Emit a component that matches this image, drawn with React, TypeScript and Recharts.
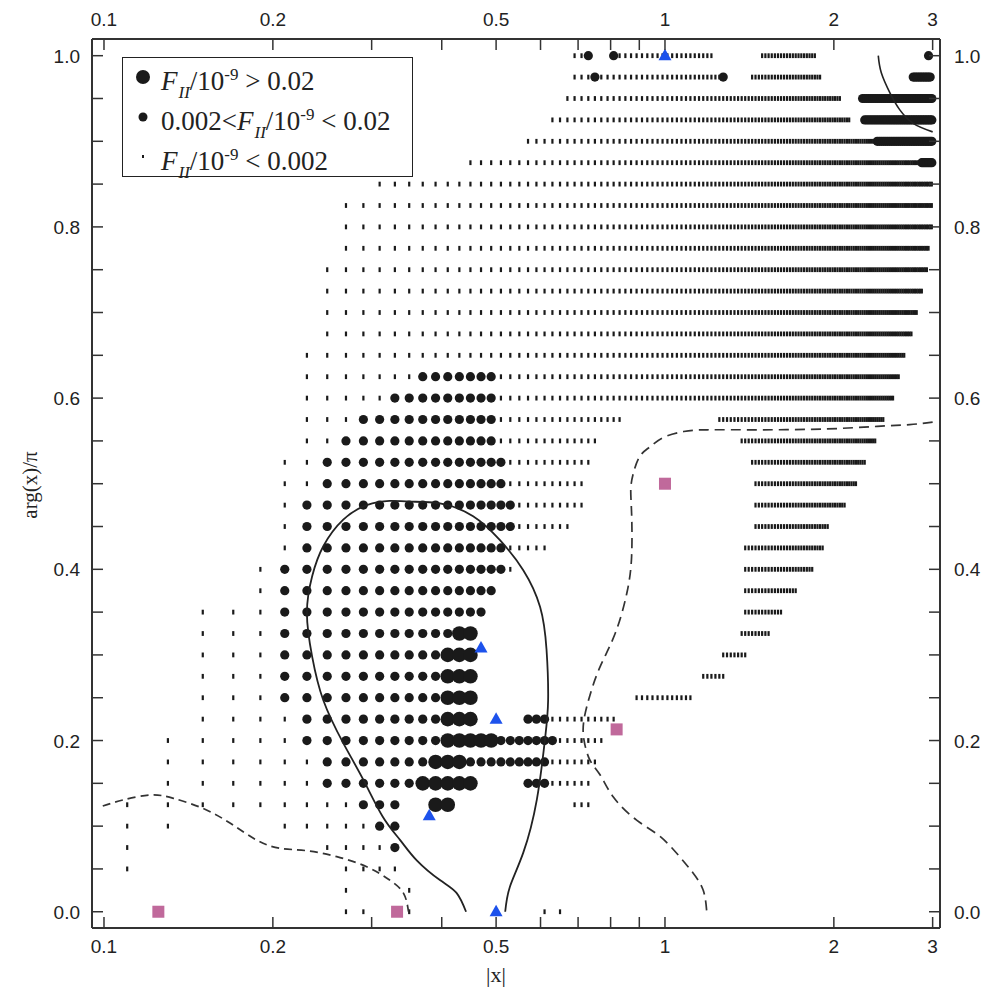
import { Scatter, ScatterChart, XAxis, YAxis } from "recharts"

// scan grid in |x|: 0.11, 0.13, ... 2.99
const GRID_START = 0.11
const GRID_STEP = 0.02

// [arg/pi, |x| from, |x| to] for each run of points on one row
const smallSpans = [
  [1.0, 0.69, 0.71], [1.0, 0.83, 1.21], [1.0, 1.49, 1.85],
  [0.975, 0.69, 0.73], [0.975, 0.77, 1.25], [0.975, 1.43, 1.89],
  [0.95, 0.67, 2.05],
  [0.925, 0.63, 2.13],
  [0.9, 0.57, 2.37],
  [0.875, 0.45, 2.85],
  [0.85, 0.31, 2.99],
  [0.825, 0.27, 2.99],
  [0.8, 0.27, 2.99],
  [0.775, 0.27, 2.95],
  [0.75, 0.25, 2.93],
  [0.725, 0.25, 2.87],
  [0.7, 0.25, 2.81],
  [0.675, 0.25, 2.75],
  [0.65, 0.23, 2.67],
  [0.625, 0.23, 0.35], [0.625, 0.51, 2.61],
  [0.6, 0.23, 0.31], [0.6, 0.51, 2.55],
  [0.575, 0.23, 0.27], [0.575, 0.51, 0.83], [0.575, 1.25, 2.45],
  [0.55, 0.23, 0.25], [0.55, 0.51, 0.75], [0.55, 1.37, 2.37],
  [0.525, 0.21, 0.23], [0.525, 0.53, 0.73], [0.525, 1.43, 2.27],
  [0.5, 0.21, 0.23], [0.5, 0.53, 0.71], [0.5, 1.45, 2.19],
  [0.475, 0.21, 0.21], [0.475, 0.55, 0.71], [0.475, 1.45, 2.09],
  [0.45, 0.21, 0.21], [0.45, 0.55, 0.67], [0.45, 1.45, 1.95],
  [0.425, 0.21, 0.21], [0.425, 0.53, 0.61], [0.425, 1.39, 1.91],
  [0.4, 0.19, 0.19], [0.4, 0.53, 0.53], [0.4, 1.39, 1.83],
  [0.375, 0.19, 0.19], [0.375, 1.39, 1.71],
  [0.35, 0.15, 0.19], [0.35, 1.39, 1.61],
  [0.325, 0.15, 0.19], [0.325, 1.37, 1.53],
  [0.3, 0.15, 0.19], [0.3, 1.27, 1.39],
  [0.275, 0.15, 0.19], [0.275, 1.17, 1.27],
  [0.25, 0.15, 0.19], [0.25, 0.89, 1.11],
  [0.225, 0.15, 0.21], [0.225, 0.63, 0.81],
  [0.2, 0.13, 0.21], [0.2, 0.65, 0.77],
  [0.175, 0.13, 0.23], [0.175, 0.63, 0.75],
  [0.15, 0.13, 0.23], [0.15, 0.63, 0.73],
  [0.125, 0.11, 0.27], [0.125, 0.69, 0.73],
  [0.1, 0.11, 0.13], [0.1, 0.21, 0.29],
  [0.075, 0.11, 0.11], [0.075, 0.25, 0.31],
  [0.05, 0.11, 0.11], [0.05, 0.27, 0.33],
  [0.025, 0.27, 0.27], [0.025, 0.35, 0.35],
  [0.0, 0.27, 0.29], [0.0, 0.35, 0.35], [0.0, 0.61, 0.61], [0.0, 0.65, 0.65],
]

const mediumSpans = [
  [1.0, 0.73, 0.73], [1.0, 0.81, 0.81], [1.0, 2.95, 2.95],
  [0.975, 0.75, 0.75], [0.975, 1.27, 1.27], [0.975, 2.77, 2.97],
  [0.95, 2.25, 2.99],
  [0.925, 2.27, 2.99],
  [0.9, 2.39, 2.99],
  [0.875, 2.87, 2.99],
  [0.625, 0.37, 0.49],
  [0.6, 0.33, 0.49],
  [0.575, 0.29, 0.49],
  [0.55, 0.27, 0.49],
  [0.525, 0.25, 0.51],
  [0.5, 0.25, 0.51],
  [0.475, 0.23, 0.53],
  [0.45, 0.23, 0.53],
  [0.425, 0.23, 0.51],
  [0.4, 0.21, 0.51],
  [0.375, 0.21, 0.49],
  [0.35, 0.21, 0.47],
  [0.325, 0.21, 0.41],
  [0.3, 0.21, 0.39],
  [0.275, 0.21, 0.39],
  [0.25, 0.21, 0.39],
  [0.225, 0.23, 0.39], [0.225, 0.57, 0.61],
  [0.2, 0.23, 0.39], [0.2, 0.51, 0.63],
  [0.175, 0.25, 0.37], [0.175, 0.45, 0.61],
  [0.15, 0.25, 0.35], [0.15, 0.57, 0.61],
  [0.125, 0.29, 0.33],
  [0.1, 0.31, 0.33],
  [0.075, 0.33, 0.33],
]

const largeSpans = [
  [0.325, 0.43, 0.45],
  [0.3, 0.41, 0.45],
  [0.275, 0.41, 0.45],
  [0.25, 0.41, 0.45],
  [0.225, 0.41, 0.45],
  [0.2, 0.41, 0.49],
  [0.175, 0.39, 0.43],
  [0.15, 0.37, 0.45],
  [0.125, 0.39, 0.41],
]

const triangles = [
  { x: 1.0, y: 1.0 },
  { x: 0.47, y: 0.308 },
  { x: 0.5, y: 0.225 },
  { x: 0.38, y: 0.112 },
  { x: 0.5, y: 0.0 },
]

const squares = [
  { x: 0.125, y: 0.0 },
  { x: 0.333, y: 0.0 },
  { x: 0.82, y: 0.213 },
  { x: 1.0, y: 0.5 },
]

const solidLoop = [
  { x: 0.442, y: 0.0 }, { x: 0.425, y: 0.022 }, { x: 0.397, y: 0.037 },
  { x: 0.361, y: 0.06 }, { x: 0.337, y: 0.084 }, { x: 0.314, y: 0.111 },
  { x: 0.29, y: 0.154 }, { x: 0.267, y: 0.197 }, { x: 0.246, y: 0.247 },
  { x: 0.235, y: 0.298 }, { x: 0.23, y: 0.349 }, { x: 0.235, y: 0.392 },
  { x: 0.246, y: 0.427 }, { x: 0.267, y: 0.458 }, { x: 0.294, y: 0.475 },
  { x: 0.323, y: 0.48 }, { x: 0.351, y: 0.479 }, { x: 0.397, y: 0.477 },
  { x: 0.455, y: 0.462 }, { x: 0.508, y: 0.434 }, { x: 0.559, y: 0.399 },
  { x: 0.599, y: 0.356 }, { x: 0.615, y: 0.306 }, { x: 0.619, y: 0.247 },
  { x: 0.611, y: 0.201 }, { x: 0.591, y: 0.131 }, { x: 0.559, y: 0.069 },
  { x: 0.529, y: 0.029 }, { x: 0.519, y: 0.0 },
]

const cornerArc = [
  { x: 2.4, y: 1.0 }, { x: 2.43, y: 0.98 }, { x: 2.52, y: 0.956 },
  { x: 2.62, y: 0.937 }, { x: 2.77, y: 0.921 }, { x: 3.0, y: 0.911 },
]

const leftDashed = [
  { x: 0.0995, y: 0.1235 }, { x: 0.108, y: 0.1305 }, { x: 0.121, y: 0.1364 },
  { x: 0.133, y: 0.1325 }, { x: 0.15, y: 0.1208 }, { x: 0.168, y: 0.1033 },
  { x: 0.187, y: 0.0838 }, { x: 0.206, y: 0.0741 }, { x: 0.23, y: 0.0713 },
  { x: 0.26, y: 0.0643 }, { x: 0.294, y: 0.0526 }, { x: 0.323, y: 0.037 },
  { x: 0.342, y: 0.0215 }, { x: 0.349, y: 0.0 },
]

const rightDashed = [
  { x: 3.0, y: 0.572 }, { x: 2.73, y: 0.569 }, { x: 2.39, y: 0.567 },
  { x: 1.94, y: 0.564 }, { x: 1.48, y: 0.563 }, { x: 1.19, y: 0.563 },
  { x: 1.08, y: 0.561 }, { x: 0.993, y: 0.554 }, { x: 0.94, y: 0.543 },
  { x: 0.902, y: 0.532 }, { x: 0.878, y: 0.512 }, { x: 0.869, y: 0.493 },
  { x: 0.872, y: 0.465 }, { x: 0.872, y: 0.415 }, { x: 0.855, y: 0.372 },
  { x: 0.815, y: 0.325 }, { x: 0.766, y: 0.286 }, { x: 0.735, y: 0.253 },
  { x: 0.717, y: 0.224 }, { x: 0.717, y: 0.201 }, { x: 0.735, y: 0.177 },
  { x: 0.766, y: 0.16 }, { x: 0.809, y: 0.134 }, { x: 0.89, y: 0.107 },
  { x: 0.98, y: 0.088 }, { x: 1.063, y: 0.064 }, { x: 1.123, y: 0.045 },
  { x: 1.17, y: 0.025 }, { x: 1.187, y: 0.0 },
]

const xTicks = [0.1, 0.2, 0.3, 0.4, 0.5, 0.6, 0.7, 0.8, 0.9, 1, 2, 3]
const xLabelled = [0.1, 0.2, 0.5, 1, 2, 3]
const yTicks = [
  0, 0.05, 0.1, 0.15, 0.2, 0.25, 0.3, 0.35, 0.4, 0.45, 0.5,
  0.55, 0.6, 0.65, 0.7, 0.75, 0.8, 0.85, 0.9, 0.95, 1,
]
const yLabelled = [0, 0.2, 0.4, 0.6, 0.8, 1]

function expandSpans(spans: number[][]) {
  const pts: { x: number; y: number }[] = []
  for (const [y, from, to] of spans) {
    const k0 = Math.round((from - GRID_START) / GRID_STEP)
    const k1 = Math.round((to - GRID_START) / GRID_STEP)
    for (let k = k0; k <= k1; k++) {
      pts.push({ x: Math.round((GRID_START + GRID_STEP * k) * 100) / 100, y })
    }
  }
  return pts
}

const smallPts = expandSpans(smallSpans)
const mediumPts = expandSpans(mediumSpans)
const largePts = expandSpans(largeSpans)

const INK = "#1a1a1a"
const AXIS = "#333"
const TICK_LEN = 11
const sans = '"Liberation Sans", Arial, sans-serif'
const serif = '"Liberation Serif", "Times New Roman", serif'

const SmallDot = (p: any) => (
  <rect x={p.cx - 1.1} y={p.cy - 2.4} width={2.2} height={4.8} fill={INK} />
)
const MediumDot = (p: any) => <circle cx={p.cx} cy={p.cy} r={4.6} fill={INK} />
const LargeDot = (p: any) => <circle cx={p.cx} cy={p.cy} r={7.3} fill={INK} />
const Triangle = (p: any) => (
  <polygon
    points={`${p.cx},${p.cy - 7} ${p.cx + 6.5},${p.cy + 4.5} ${p.cx - 6.5},${p.cy + 4.5}`}
    fill="#1d52ec"
  />
)
const Square = (p: any) => (
  <rect x={p.cx - 6} y={p.cy - 6} width={12} height={12} fill="#c0699b" />
)
const NoDot = () => <g />

const fmtX = (v: number) => String(v)
const fmtY = (v: number) => v.toFixed(1)

function XTick({ x, y, payload, top }: any) {
  const v = payload.value
  const dir = top ? 1 : -1
  return (
    <g>
      <line x1={x} x2={x} y1={y} y2={y + dir * TICK_LEN} stroke={AXIS} strokeWidth={1.5} />
      {xLabelled.includes(v) && (
        <text
          x={x}
          y={top ? y - 13 : y + 25}
          textAnchor="middle"
          fontFamily={sans}
          fontSize={19}
          fill="#222"
        >
          {fmtX(v)}
        </text>
      )}
    </g>
  )
}

function YTick({ x, y, payload, right }: any) {
  const v = payload.value
  const dir = right ? -1 : 1
  return (
    <g>
      <line x1={x} x2={x + dir * TICK_LEN} y1={y} y2={y} stroke={AXIS} strokeWidth={1.5} />
      {yLabelled.includes(v) && (
        <text
          x={right ? x + 14 : x - 12}
          y={y + 7}
          textAnchor={right ? "start" : "end"}
          fontFamily={sans}
          fontSize={19}
          fill="#222"
        >
          {fmtY(v)}
        </text>
      )}
    </g>
  )
}

const X_DOMAIN = [0.0952, 3.092]
const Y_DOMAIN = [-0.019, 1.0195]

const subStyle = { fontSize: 17, fontStyle: "italic" as const, verticalAlign: "-8px", marginLeft: 1 }
const supStyle = { fontSize: 17, verticalAlign: "10px" }

export default function App() {
  return (
    <div style={{ position: "absolute", left: 0, top: 0, width: 989, height: 998, background: "#fff" }}>
      <ScatterChart width={989} height={998} margin={{ top: 38, right: 48, bottom: 69, left: 91 }}>
        <XAxis
          type="number"
          dataKey="x"
          scale="log"
          domain={X_DOMAIN}
          allowDataOverflow
          ticks={xTicks}
          interval={0}
          height={1}
          tickSize={0}
          tickMargin={0}
          axisLine={{ stroke: AXIS, strokeWidth: 2 }}
          tick={<XTick />}
        />
        <XAxis
          xAxisId="top"
          orientation="top"
          type="number"
          dataKey="x"
          scale="log"
          domain={X_DOMAIN}
          allowDataOverflow
          ticks={xTicks}
          interval={0}
          height={1}
          tickSize={0}
          tickMargin={0}
          axisLine={{ stroke: AXIS, strokeWidth: 2 }}
          tick={<XTick top />}
        />
        <YAxis
          type="number"
          dataKey="y"
          domain={Y_DOMAIN}
          allowDataOverflow
          ticks={yTicks}
          interval={0}
          width={1}
          tickSize={0}
          tickMargin={0}
          axisLine={{ stroke: AXIS, strokeWidth: 2 }}
          tick={<YTick />}
        />
        <YAxis
          yAxisId="right"
          orientation="right"
          type="number"
          dataKey="y"
          domain={Y_DOMAIN}
          allowDataOverflow
          ticks={yTicks}
          interval={0}
          width={1}
          tickSize={0}
          tickMargin={0}
          axisLine={{ stroke: AXIS, strokeWidth: 2 }}
          tick={<YTick right />}
        />
        <Scatter data={smallPts} shape={SmallDot} isAnimationActive={false} />
        <Scatter data={mediumPts} shape={MediumDot} isAnimationActive={false} />
        <Scatter data={largePts} shape={LargeDot} isAnimationActive={false} />
        <Scatter
          data={solidLoop}
          shape={NoDot}
          line={{ stroke: "#222", strokeWidth: 1.8 }}
          lineJointType="natural"
          isAnimationActive={false}
        />
        <Scatter
          data={cornerArc}
          shape={NoDot}
          line={{ stroke: "#222", strokeWidth: 1.6 }}
          lineJointType="natural"
          isAnimationActive={false}
        />
        <Scatter
          data={leftDashed}
          shape={NoDot}
          line={{ stroke: "#333", strokeWidth: 1.7, strokeDasharray: "8 5" }}
          lineJointType="natural"
          isAnimationActive={false}
        />
        <Scatter
          data={rightDashed}
          shape={NoDot}
          line={{ stroke: "#333", strokeWidth: 1.7, strokeDasharray: "10 6" }}
          lineJointType="natural"
          isAnimationActive={false}
        />
        <Scatter data={squares} shape={Square} isAnimationActive={false} />
        <Scatter data={triangles} shape={Triangle} isAnimationActive={false} />
      </ScatterChart>

      <div
        style={{
          position: "absolute",
          left: 122,
          top: 57,
          width: 291,
          height: 120,
          boxSizing: "border-box",
          border: "1.5px solid #222",
          background: "#fff",
          fontFamily: serif,
          fontSize: 27,
          color: "#222",
        }}
      >
        <svg width={40} height={118} style={{ position: "absolute", left: 0, top: 0 }}>
          <circle cx={20} cy={19} r={7} fill={INK} />
          <circle cx={20} cy={59} r={4.5} fill={INK} />
          <rect x={19} y={97} width={2} height={3} fill={INK} />
        </svg>
        <div style={{ position: "absolute", left: 38, top: 2, lineHeight: "30px", whiteSpace: "nowrap" }}>
          <i>F</i>
          <sub style={subStyle}>II</sub>/10
          <sup style={supStyle}>-9</sup> &gt; 0.02
        </div>
        <div style={{ position: "absolute", left: 38, top: 42, lineHeight: "30px", whiteSpace: "nowrap" }}>
          0.002&lt;<i>F</i>
          <sub style={subStyle}>II</sub>/10
          <sup style={supStyle}>-9</sup> &lt; 0.02
        </div>
        <div style={{ position: "absolute", left: 38, top: 82, lineHeight: "30px", whiteSpace: "nowrap" }}>
          <i>F</i>
          <sub style={subStyle}>II</sub>/10
          <sup style={supStyle}>-9</sup> &lt; 0.002
        </div>
      </div>

      <div
        style={{
          position: "absolute",
          left: 446,
          width: 100,
          top: 962,
          textAlign: "center",
          fontFamily: serif,
          fontSize: 22,
          color: "#222",
        }}
      >
        |x|
      </div>
      <div
        style={{
          position: "absolute",
          left: 30,
          top: 485,
          transform: "translate(-50%, -50%) rotate(-90deg)",
          fontFamily: serif,
          fontSize: 21,
          color: "#222",
          whiteSpace: "nowrap",
        }}
      >
        arg(x)/π
      </div>
    </div>
  )
}
